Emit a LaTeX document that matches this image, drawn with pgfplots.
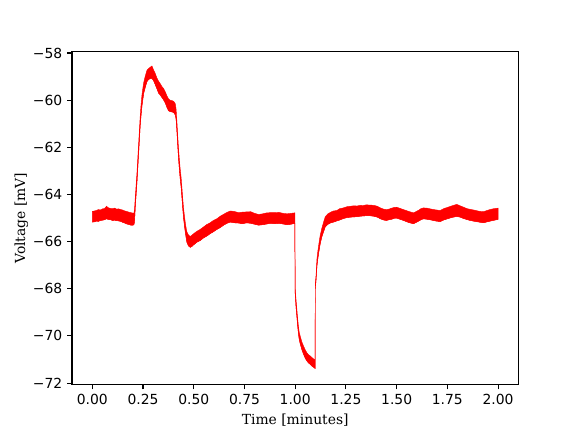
\documentclass[border=0pt]{standalone}
\usepackage{fontspec}
\setmainfont{DejaVu Serif}
\newfontfamily\ticksfont{DejaVu Sans}
\usepackage{pgfplots}
\usepackage{pgfplotstable}
\pgfplotsset{compat=1.18}

% voltage trace: lower and upper edge of the noise band
\pgfplotstableread{
t lo hi
0.000 -65.17 -64.72
0.010 -65.16 -64.70
0.020 -65.13 -64.68
0.030 -65.14 -64.64
0.040 -65.10 -64.66
0.050 -65.09 -64.61
0.060 -65.07 -64.60
0.070 -65.03 -64.50
0.080 -65.06 -64.57
0.090 -65.07 -64.59
0.100 -65.10 -64.60
0.110 -65.09 -64.58
0.120 -65.11 -64.62
0.130 -65.12 -64.61
0.140 -65.14 -64.64
0.150 -65.18 -64.66
0.160 -65.21 -64.70
0.170 -65.25 -64.72
0.180 -65.27 -64.75
0.190 -65.30 -64.77
0.200 -65.30 -64.79
0.205 -65.28 -64.80
0.208 -65.15 -64.65
0.212 -64.50 -64.10
0.216 -64.00 -63.60
0.220 -63.50 -63.10
0.224 -62.90 -62.50
0.228 -62.30 -61.90
0.232 -61.70 -61.30
0.236 -61.10 -60.70
0.240 -60.67 -60.23
0.245 -60.22 -59.76
0.253 -59.72 -59.27
0.261 -59.45 -58.98
0.269 -59.22 -58.74
0.277 -59.12 -58.66
0.286 -59.08 -58.60
0.294 -59.07 -58.55
0.302 -59.17 -58.72
0.310 -59.33 -58.86
0.318 -59.50 -59.05
0.327 -59.70 -59.20
0.335 -59.78 -59.30
0.343 -59.88 -59.42
0.351 -59.98 -59.50
0.360 -60.12 -59.65
0.368 -60.30 -59.82
0.376 -60.45 -59.95
0.384 -60.48 -60.00
0.393 -60.50 -60.02
0.401 -60.52 -60.05
0.409 -60.62 -60.15
0.413 -60.80 -60.38
0.417 -61.30 -60.90
0.421 -61.90 -61.50
0.425 -62.45 -62.05
0.429 -62.90 -62.50
0.433 -63.30 -62.90
0.438 -63.70 -63.30
0.442 -64.14 -63.74
0.446 -64.60 -64.20
0.450 -65.00 -64.60
0.454 -65.30 -64.90
0.458 -65.57 -65.17
0.462 -65.80 -65.40
0.466 -66.02 -65.58
0.474 -66.18 -65.72
0.483 -66.24 -65.78
0.491 -66.20 -65.73
0.500 -66.13 -65.66
0.516 -66.02 -65.56
0.532 -65.95 -65.48
0.548 -65.84 -65.38
0.565 -65.76 -65.27
0.581 -65.66 -65.20
0.597 -65.58 -65.10
0.614 -65.48 -65.03
0.631 -65.40 -64.92
0.647 -65.30 -64.84
0.664 -65.22 -64.76
0.680 -65.17 -64.70
0.700 -65.20 -64.72
0.720 -65.21 -64.77
0.740 -65.24 -64.75
0.760 -65.20 -64.74
0.780 -65.22 -64.73
0.800 -65.26 -64.80
0.820 -65.30 -64.85
0.840 -65.28 -64.82
0.860 -65.25 -64.78
0.880 -65.22 -64.77
0.900 -65.24 -64.77
0.920 -65.22 -64.76
0.940 -65.25 -64.80
0.960 -65.28 -64.82
0.980 -65.26 -64.80
0.998 -65.22 -64.78
1.000 -68.20 -68.00
1.004 -68.75 -68.45
1.008 -69.15 -68.85
1.012 -69.55 -69.25
1.016 -69.90 -69.60
1.020 -70.15 -69.85
1.025 -70.34 -70.02
1.033 -70.58 -70.26
1.041 -70.77 -70.43
1.050 -70.95 -70.60
1.058 -71.06 -70.72
1.066 -71.15 -70.80
1.074 -71.20 -70.85
1.083 -71.28 -70.92
1.091 -71.33 -70.98
1.098 -71.38 -71.03
1.099 -68.00 -67.80
1.103 -67.60 -67.40
1.107 -67.05 -66.75
1.111 -66.75 -66.45
1.115 -66.52 -66.20
1.119 -66.30 -65.96
1.123 -66.10 -65.75
1.131 -65.80 -65.44
1.140 -65.57 -65.17
1.148 -65.37 -64.95
1.160 -65.27 -64.83
1.175 -65.20 -64.75
1.189 -65.17 -64.70
1.205 -65.12 -64.68
1.220 -65.08 -64.60
1.237 -65.02 -64.57
1.255 -64.98 -64.52
1.272 -64.96 -64.50
1.290 -64.95 -64.48
1.305 -64.94 -64.49
1.320 -64.92 -64.46
1.335 -64.91 -64.47
1.350 -64.90 -64.44
1.368 -64.90 -64.45
1.387 -64.92 -64.46
1.405 -64.96 -64.50
1.420 -65.03 -64.57
1.435 -65.08 -64.62
1.450 -65.10 -64.64
1.463 -65.07 -64.62
1.475 -65.05 -64.58
1.488 -65.01 -64.55
1.500 -65.00 -64.54
1.520 -65.06 -64.60
1.540 -65.12 -64.66
1.560 -65.19 -64.72
1.583 -65.24 -64.78
1.597 -65.18 -64.72
1.610 -65.12 -64.66
1.620 -65.07 -64.60
1.632 -65.03 -64.57
1.650 -65.05 -64.58
1.670 -65.08 -64.62
1.690 -65.12 -64.65
1.714 -65.15 -64.68
1.732 -65.08 -64.60
1.750 -65.03 -64.55
1.773 -64.97 -64.48
1.796 -64.93 -64.42
1.813 -64.96 -64.48
1.830 -65.02 -64.54
1.846 -65.06 -64.60
1.862 -65.10 -64.63
1.880 -65.13 -64.66
1.900 -65.16 -64.70
1.914 -65.18 -64.72
1.928 -65.20 -64.73
1.945 -65.16 -64.68
1.960 -65.13 -64.64
1.980 -65.09 -64.60
2.000 -65.06 -64.58
}\voltdata

\begin{document}
\begin{tikzpicture}
\begin{axis}[
    at={(51.84pt,34.21pt)}, anchor=south west,
    scale only axis, width=321.4pt, height=239.5pt,
    xmin=-0.1, xmax=2.1, ymin=-72.06, ymax=-57.95,
    axis line style={line width=0.8pt},
    tick style={black, line width=0.8pt},
    tick align=outside, major tick length=3.5pt,
    xtick={0,0.25,0.5,0.75,1,1.25,1.5,1.75,2},
    xticklabels={0.00,0.25,0.50,0.75,1.00,1.25,1.50,1.75,2.00},
    ytick={-72,-70,-68,-66,-64,-62,-60,-58},
    yticklabels={−72,−70,−68,−66,−64,−62,−60,−58},
    ticklabel style={font=\ticksfont\fontsize{10}{12}\selectfont},
    xtick pos=bottom, ytick pos=left,
    label style={font=\fontsize{10}{12}\selectfont},
    xlabel={Time [minutes]}, ylabel={Voltage [mV]},
    ylabel shift=-3.5pt,
    stack plots=y,
]
\addplot[red, line width=0.3pt] table[x=t, y=lo] {\voltdata};
\addplot[red, line width=0.3pt, fill=red]
    table[x=t, y expr=\thisrow{hi}-\thisrow{lo}] {\voltdata} \closedcycle;
\end{axis}
\path (0,0) rectangle (414.72pt,311.04pt);
\end{tikzpicture}
\end{document}
